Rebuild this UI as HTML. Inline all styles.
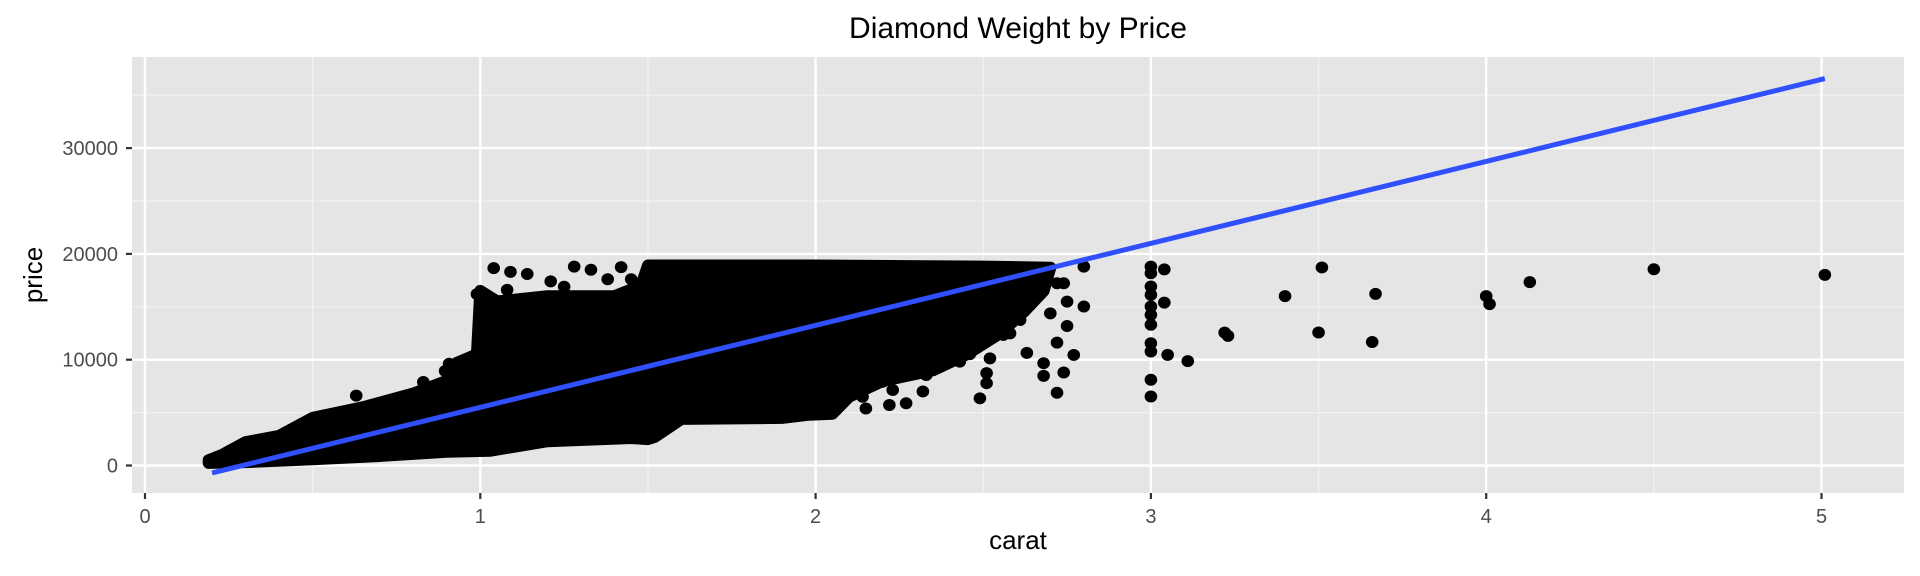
<!DOCTYPE html>
<html><head><meta charset="utf-8"><style>
html,body{margin:0;padding:0;background:#fff;}
svg{display:block;font-family:"Liberation Sans",Arial,sans-serif;}
</style></head><body>
<svg id="chart" width="1920" height="576" viewBox="0 0 1920 576" xmlns="http://www.w3.org/2000/svg">
<text x="1018" y="38" font-size="30" text-anchor="middle" fill="#000">Diamond Weight by Price</text>
<rect x="132" y="57" width="1772" height="436" fill="#E5E5E5"/>
<g id="grid"></g>
<g id="marks"></g>
<g id="axes"></g>
<text x="1018" y="549" font-size="26" text-anchor="middle" fill="#000">carat</text>
<text transform="translate(42,275) rotate(-90)" font-size="26" text-anchor="middle" fill="#000">price</text>
</svg>
<script>
const xTicks=[0,1,2,3,4,5];
const xMinor=[0.5,1.5,2.5,3.5,4.5];
const yTicks=[0,10000,20000,30000];
const yMinor=[5000,15000,25000,35000];
// dense region outline (carat, price)
const denseCarat=[0.19,0.3,0.5,0.7,0.9,1.03,1.2,1.45,1.5,1.52,1.6,1.9,1.98,2.05,2.1,2.2,2.35,2.45,2.55,2.62,2.68,2.7,2.5,2.0,1.5,1.48,1.4,1.2,1.05,1.0,0.99,0.93,0.9,0.8,0.65,0.5,0.4,0.3,0.23,0.19];
const densePrice=[250,320,600,900,1300,1400,2300,2600,2500,2700,4400,4500,4800,4900,6500,8000,9000,10500,12500,14500,16500,18700,18800,18900,18900,17000,16000,16000,15500,16500,10500,9700,8000,6800,5500,4500,2800,2200,1000,500];
// scattered points
const ptCarat=[1.04,1.09,1.14,1.005,1.21,1.28,1.33,1.42,1.45,1.38,1.25,1.08,0.99,
2.14,2.18,2.16,2.25,2.27,2.20,2.33,2.23,2.32,2.14,2.22,2.27,2.15,2.06,1.91,1.95,1.83,1.74,1.58,
2.38,2.43,2.46,2.45,2.52,2.51,2.51,2.49,2.58,2.61,2.56,2.63,2.68,2.68,2.72,2.74,2.77,2.72,2.75,2.70,2.75,2.80,2.80,2.72,2.65,2.74,
3.0,3.0,3.0,3.0,3.0,3.0,3.0,3.0,3.0,3.0,3.0,3.04,3.04,3.05,3.11,3.22,3.23,
3.40,3.51,3.50,3.67,3.66,4.00,4.01,4.13,4.50,5.01,
0.63,0.907,0.83,0.895,0.82];
const ptPrice=[18650,18300,18100,14500,17400,18800,18500,18750,17600,17600,16900,16600,16200,
10280,10280,9030,9190,9190,7920,8550,7140,7000,6500,5720,5880,5390,5230,6820,5230,5070,4770,4460,
10760,9820,10530,12020,10130,8730,7780,6350,12490,13750,12340,10650,9670,8470,6880,8790,10450,11610,13190,14380,15490,15030,18800,17220,16270,17220,
18800,18170,16920,16130,15030,14240,13300,11560,10780,8100,6520,18540,15390,10460,9870,12560,12250,
16010,18720,12570,16220,11670,16010,15250,17330,18550,18020,
6600,9620,7890,8930,6850];
// linear fit endpoints
const fitCarat=[0.2,5.01];
const fitPrice=[-700,36570];

const NS="http://www.w3.org/2000/svg";
const X0=145,XS=335.3,Y0=465.5,YS=0.01058;
const sx=c=>X0+c*XS, sy=p=>Y0-p*YS;
function mk(tag,attrs,parent){const e=document.createElementNS(NS,tag);for(const k in attrs)e.setAttribute(k,attrs[k]);parent.appendChild(e);return e;}
const grid=document.getElementById('grid'),marks=document.getElementById('marks'),axes=document.getElementById('axes');
xMinor.forEach(v=>{const l=mk('line',{x1:sx(v),x2:sx(v),y1:57,y2:493,stroke:'#F2F2F2','stroke-width':1.2},grid);

});
yMinor.forEach(v=>{const l=mk('line',{x1:132,x2:1904,y1:sy(v),y2:sy(v),stroke:'#F2F2F2','stroke-width':1.2},grid);

});
xTicks.forEach(v=>{const l=mk('line',{x1:sx(v),x2:sx(v),y1:57,y2:493,stroke:'#fff','stroke-width':2.4},grid);


const t=mk('line',{x1:sx(v),x2:sx(v),y1:493,y2:499,stroke:'#333','stroke-width':2.2},axes);


const tx=mk('text',{x:sx(v),y:523,'font-size':20,'text-anchor':'middle',fill:'#4D4D4D'},axes);tx.textContent=v;

});
yTicks.forEach(v=>{const l=mk('line',{x1:132,x2:1904,y1:sy(v),y2:sy(v),stroke:'#fff','stroke-width':2.4},grid);


const t=mk('line',{x1:126,x2:132,y1:sy(v),y2:sy(v),stroke:'#333','stroke-width':2.2},axes);


const tx=mk('text',{x:118,y:sy(v)+7,'font-size':20,'text-anchor':'end',fill:'#4D4D4D'},axes);tx.textContent=v;

});
const pts=denseCarat.map((c,i)=>sx(c).toFixed(1)+','+sy(densePrice[i]).toFixed(1)).join(' ');
const poly=mk('polygon',{points:pts,fill:'#000',stroke:'#000','stroke-width':12,'stroke-linejoin':'round'},marks);


ptCarat.forEach((c,i)=>{const p=mk('ellipse',{cx:sx(c),cy:sy(ptPrice[i]),rx:6.3,ry:6,fill:'#000'},marks);

});
const fl=mk('line',{x1:sx(fitCarat[0]),y1:sy(fitPrice[0]),x2:sx(fitCarat[1]),y2:sy(fitPrice[1]),stroke:'#3050FF','stroke-width':5},marks);


</script>
</body></html>
